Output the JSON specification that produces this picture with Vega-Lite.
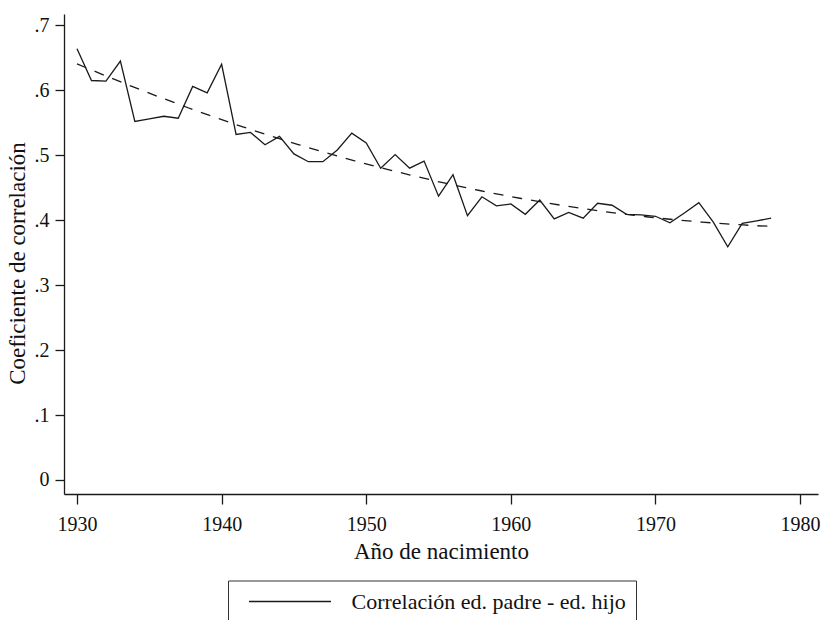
{
  "$schema": "https://vega.github.io/schema/vega-lite/v6.json",
  "width": 754,
  "height": 480,
  "autosize": "none",
  "padding": {"left": 64, "top": 14, "right": 4, "bottom": 126},
  "background": "white",
  "data": {"values": [
    {"year": 1930, "r": 0.664}, {"year": 1931, "r": 0.615}, {"year": 1932, "r": 0.614},
    {"year": 1933, "r": 0.645}, {"year": 1934, "r": 0.552}, {"year": 1935, "r": 0.556},
    {"year": 1936, "r": 0.560}, {"year": 1937, "r": 0.557}, {"year": 1938, "r": 0.606},
    {"year": 1939, "r": 0.596}, {"year": 1940, "r": 0.640}, {"year": 1941, "r": 0.532},
    {"year": 1942, "r": 0.535}, {"year": 1943, "r": 0.516}, {"year": 1944, "r": 0.529},
    {"year": 1945, "r": 0.502}, {"year": 1946, "r": 0.490}, {"year": 1947, "r": 0.490},
    {"year": 1948, "r": 0.508}, {"year": 1949, "r": 0.534}, {"year": 1950, "r": 0.519},
    {"year": 1951, "r": 0.480}, {"year": 1952, "r": 0.501}, {"year": 1953, "r": 0.480},
    {"year": 1954, "r": 0.491}, {"year": 1955, "r": 0.437}, {"year": 1956, "r": 0.470},
    {"year": 1957, "r": 0.407}, {"year": 1958, "r": 0.436}, {"year": 1959, "r": 0.422},
    {"year": 1960, "r": 0.425}, {"year": 1961, "r": 0.409}, {"year": 1962, "r": 0.431},
    {"year": 1963, "r": 0.402}, {"year": 1964, "r": 0.412}, {"year": 1965, "r": 0.403},
    {"year": 1966, "r": 0.426}, {"year": 1967, "r": 0.423}, {"year": 1968, "r": 0.409},
    {"year": 1969, "r": 0.408}, {"year": 1970, "r": 0.406}, {"year": 1971, "r": 0.396},
    {"year": 1972, "r": 0.411}, {"year": 1973, "r": 0.427}, {"year": 1974, "r": 0.397},
    {"year": 1975, "r": 0.359}, {"year": 1976, "r": 0.395}, {"year": 1977, "r": 0.399},
    {"year": 1978, "r": 0.403}
  ]},
  "encoding": {
    "x": {
      "field": "year", "type": "quantitative",
      "scale": {"domain": [1929.1, 1981.24], "nice": false, "zero": false},
      "axis": {
        "title": "Año de nacimiento",
        "values": [1930, 1940, 1950, 1960, 1970, 1980],
        "format": "d",
        "tickSize": 10,
        "labelPadding": 10,
        "titlePadding": 6
      }
    },
    "y": {
      "field": "r", "type": "quantitative",
      "scale": {"domain": [-0.02156, 0.7174], "nice": false, "zero": false},
      "axis": {
        "title": "Coeficiente de correlación",
        "values": [0, 0.1, 0.2, 0.3, 0.4, 0.5, 0.6, 0.7],
        "labelExpr": "datum.value == 0 ? '0' : replace(format(datum.value, '.1f'), '0.', '.')",
        "tickSize": 9,
        "labelPadding": 6,
        "titlePadding": 5,
        "titleY": 249
      }
    }
  },
  "layer": [
    {
      "mark": {"type": "line", "strokeWidth": 1.3},
      "encoding": {
        "color": {
          "datum": "Correlación ed. padre - ed. hijo",
          "type": "nominal",
          "scale": {"range": ["#1a1a1a"]},
          "legend": {
            "title": null,
            "orient": "none",
            "legendX": 164,
            "legendY": 566.5,
            "symbolType": "M0,0H8",
            "symbolSize": 420,
            "symbolStrokeWidth": 1.3,
            "symbolFillColor": "transparent",
            "labelOffset": 91.5,
            "padding": 10,
            "strokeColor": "#333333"
          }
        }
      }
    },
    {
      "transform": [{"regression": "r", "on": "year", "method": "poly", "order": 2}],
      "mark": {"type": "line", "strokeWidth": 1.3, "strokeDash": [10, 9], "color": "#1a1a1a"}
    }
  ],
  "config": {
    "view": {"stroke": null},
    "font": "Liberation Serif",
    "axis": {
      "grid": false,
      "domainColor": "#1a1a1a",
      "domainWidth": 1.3,
      "tickColor": "#1a1a1a",
      "tickWidth": 1.3,
      "labelFont": "Liberation Serif",
      "labelFontSize": 20,
      "labelColor": "#111111",
      "titleFont": "Liberation Serif",
      "titleFontSize": 23,
      "titleFontWeight": "normal",
      "titleColor": "#111111"
    },
    "legend": {
      "labelFont": "Liberation Serif",
      "labelFontSize": 22,
      "labelColor": "#111111",
      "labelLimit": 0
    }
  }
}
